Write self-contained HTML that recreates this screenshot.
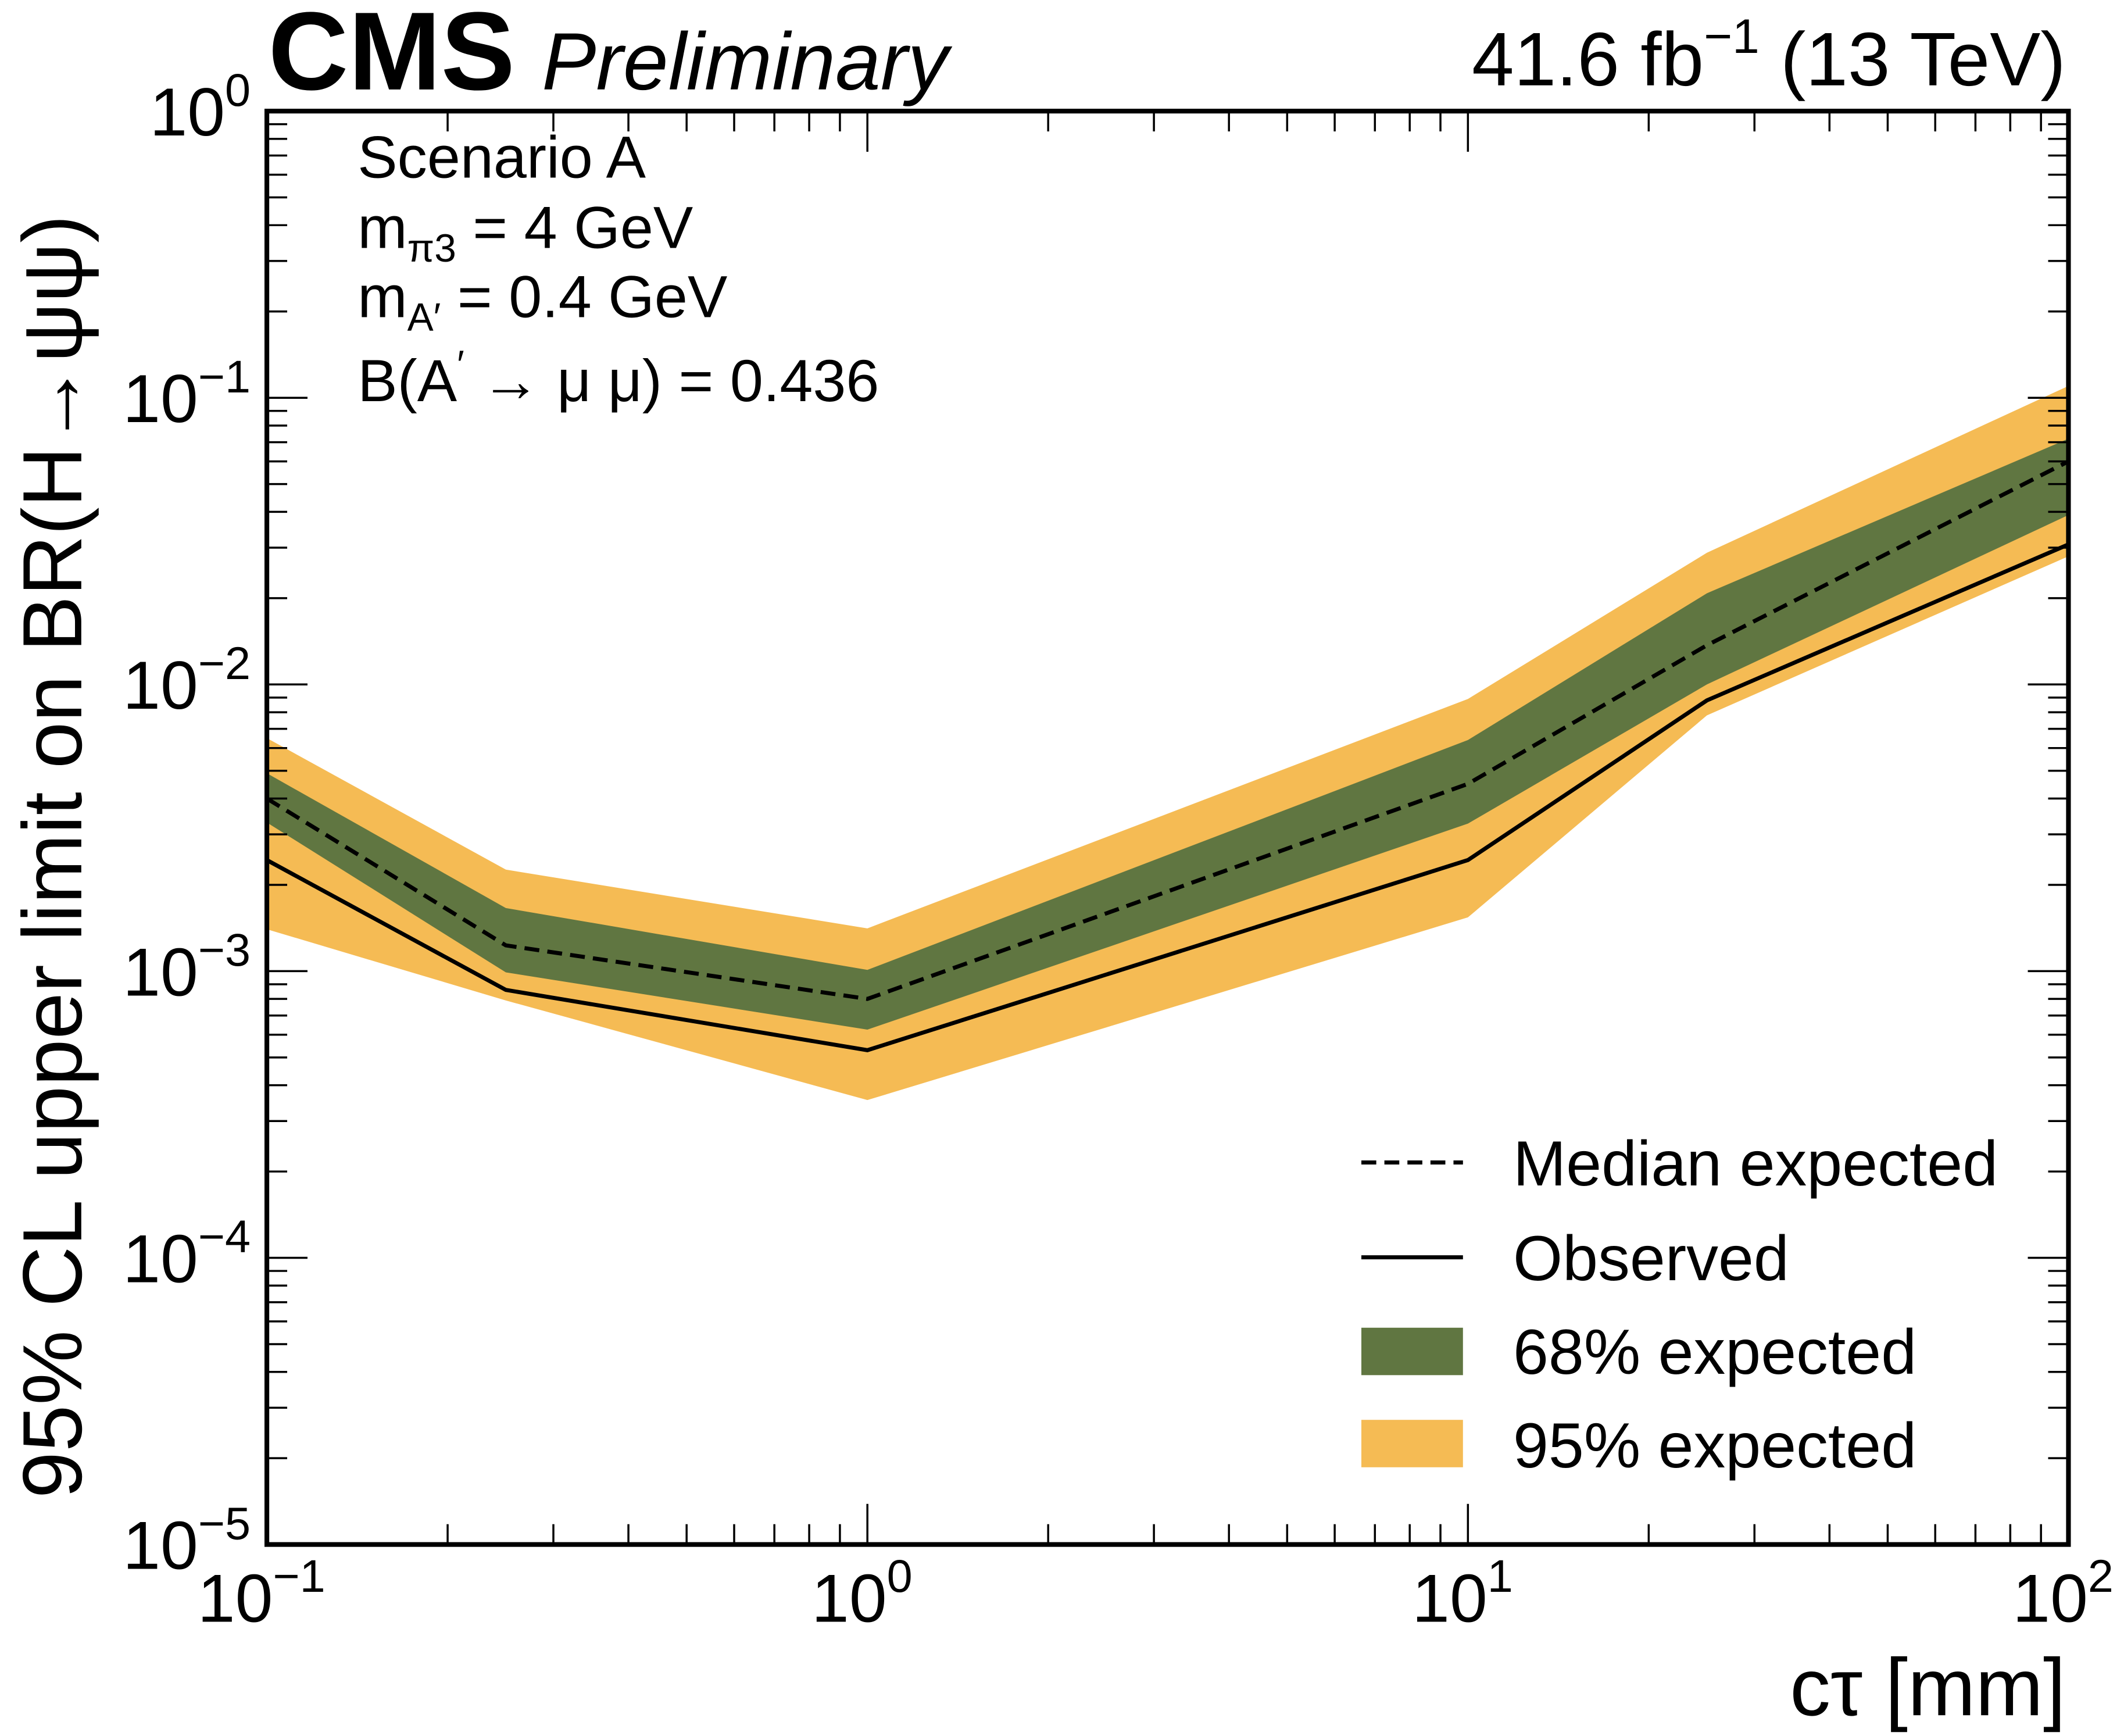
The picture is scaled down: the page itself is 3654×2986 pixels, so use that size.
<!DOCTYPE html>
<html><head><meta charset="utf-8"><style>
html,body{margin:0;padding:0;background:#fff;}
svg{display:block;font-family:"Liberation Sans",sans-serif;}
</style></head><body>
<svg id="chart" width="3654" height="2986" viewBox="0 0 1568 1281.35" xmlns="http://www.w3.org/2000/svg">
<g id="bands"></g>
<g id="lines"></g>
<g id="axes"></g>
<text x="198" y="66" font-size="82" font-weight="bold">CMS</text>
<text x="400" y="66" font-size="60" font-style="italic">Preliminary</text>
<text x="1525" y="63" font-size="56" text-anchor="end">41.6 fb<tspan dy="-24" font-size="36">−1</tspan><tspan dy="24"> (13 TeV)</tspan></text>
<g font-size="44">
<text x="264" y="131">Scenario A</text>
<text x="264" y="183">m<tspan font-size="29" dy="10">π3</tspan><tspan dy="-10"> = 4 GeV</tspan></text>
<text x="264" y="234">m<tspan font-size="29" dy="10">A′</tspan><tspan dy="-10"> = 0.4 GeV</tspan></text>
<text x="264" y="296">B(A<tspan font-size="29" dy="-17">′</tspan><tspan dy="17"> → μ μ) = 0.436</tspan></text>
</g>
<text transform="translate(60,1106) rotate(-90)" font-size="62">95% CL upper limit on BR(H→ψψ)</text>
<text x="1525" y="1266" font-size="60" text-anchor="end">cτ [mm]</text>
<g font-size="47">
<line x1="1005" y1="858" x2="1080" y2="858" stroke="#000" stroke-width="3" stroke-dasharray="11,6"/>
<text x="1117" y="875">Median expected</text>
<line x1="1005" y1="928" x2="1080" y2="928" stroke="#000" stroke-width="3"/>
<text x="1117" y="945">Observed</text>
<rect x="1005" y="980" width="75" height="35" fill="#607641"/>
<text x="1117" y="1014">68% expected</text>
<rect x="1005" y="1048" width="75" height="35" fill="#F5BB54"/>
<text x="1117" y="1083">95% expected</text>
</g>
</svg>
<script>
const ctau = [0.1, 0.25, 1, 10, 25, 100];
const median = [0.0040, 0.00123, 0.00080, 0.0045, 0.0137, 0.060];
const observed = [0.00244, 0.00086, 0.00053, 0.00244, 0.0088, 0.0308];
const up68 = [0.0049, 0.00166, 0.00101, 0.0064, 0.0208, 0.072];
const lo68 = [0.0033, 0.00099, 0.000625, 0.00327, 0.0100, 0.039];
const up95 = [0.0065, 0.00226, 0.00141, 0.0089, 0.0288, 0.110];
const lo95 = [0.0014, 0.00079, 0.000355, 0.00154, 0.0078, 0.028];
const xTickExp = [-1, 0, 1, 2];
const yTickExp = [0, -1, -2, -3, -4, -5];

const L=197, R=1527, T=82, B=1140;
function X(v){return L+(Math.log10(v)+1)/3*(R-L);}
function Y(v){return T+(-Math.log10(v))/5*(B-T);}
const NS="http://www.w3.org/2000/svg";
function mk(tag,parent,attrs){const e=document.createElementNS(NS,tag);for(const k in attrs)e.setAttribute(k,attrs[k]);parent.appendChild(e);return e;}
function band(up,lo){let p=ctau.map((c,i)=>X(c)+','+Y(up[i]));for(let i=ctau.length-1;i>=0;i--)p.push(X(ctau[i])+','+Y(lo[i]));return p.join(' ');}
const bands=document.getElementById('bands');
const b95=mk('polygon',bands,{points:band(up95,lo95),fill:'#F5BB54'});


const b68=mk('polygon',bands,{points:band(up68,lo68),fill:'#607641'});


const lines=document.getElementById('lines');
const lm=mk('polyline',lines,{points:ctau.map((c,i)=>X(c)+','+Y(median[i])).join(' '),fill:'none',stroke:'#000','stroke-width':3,'stroke-dasharray':'11,6'});


const lo=mk('polyline',lines,{points:ctau.map((c,i)=>X(c)+','+Y(observed[i])).join(' '),fill:'none',stroke:'#000','stroke-width':3});



const ax=document.getElementById('axes');
const fr=mk('rect',ax,{x:L,y:T,width:R-L,height:B-T,fill:'none',stroke:'#000','stroke-width':3.5});


for(let e=-1;e<=2;e++){for(let m=1;m<=9;m++){const v=m*Math.pow(10,e);if(v>100.0001)break;const x=X(v);const len=m===1?30:15;
mk('line',ax,{x1:x,y1:B,x2:x,y2:B-len,stroke:'#000','stroke-width':1.5});
mk('line',ax,{x1:x,y1:T,x2:x,y2:T+len,stroke:'#000','stroke-width':1.5});}}
for(let e=-5;e<=0;e++){for(let m=1;m<=9;m++){const v=m*Math.pow(10,e);if(v>1.0001)break;const y=Y(v);const len=m===1?30:15;
mk('line',ax,{x1:L,y1:y,x2:L+len,y2:y,stroke:'#000','stroke-width':1.5});
mk('line',ax,{x1:R,y1:y,x2:R-len,y2:y,stroke:'#000','stroke-width':1.5});}}
xTickExp.forEach(e=>{const t=mk('text',ax,{x:X(Math.pow(10,e))-4,y:1197,'font-size':50,'text-anchor':'middle'});


t.innerHTML='10<tspan dy="-22" font-size="34">'+(e<0?'−'+(-e):e)+'</tspan>';});
yTickExp.forEach(e=>{const t=mk('text',ax,{x:185,y:Y(Math.pow(10,e))+18,'font-size':50,'text-anchor':'end'});


t.innerHTML='10<tspan dy="-22" font-size="34">'+(e<0?'−'+(-e):e)+'</tspan>';});
</script>
</body></html>
